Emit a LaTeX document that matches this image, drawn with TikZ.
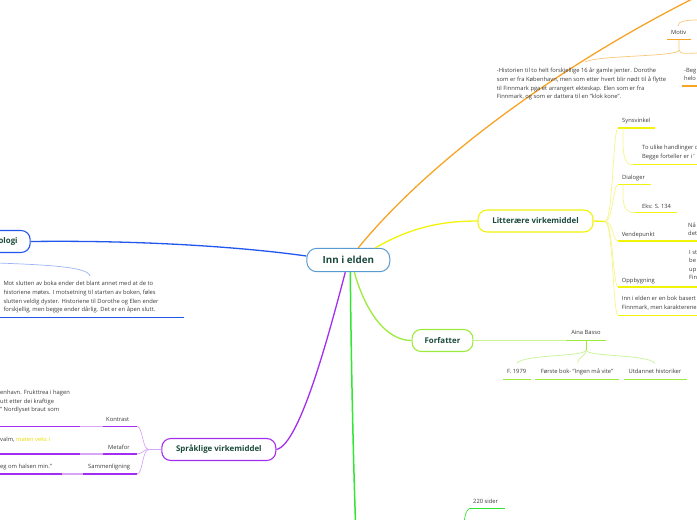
\documentclass[tikz,border=0pt]{standalone}
\usepackage{fontspec}
\setmainfont{Open Sans}
\definecolor{org}{HTML}{F7A325}
\definecolor{orgl}{HTML}{FAC77A}
\definecolor{ylw}{HTML}{F2F20A}
\definecolor{ylwl}{HTML}{F5F58A}
\definecolor{ylwt}{HTML}{E6DC00}
\definecolor{lgr}{HTML}{9BEB3C}
\definecolor{lgrl}{HTML}{C8F294}
\definecolor{grn}{HTML}{33E633}
\definecolor{blu}{HTML}{2257EE}
\definecolor{blul}{HTML}{9DB4F6}
\definecolor{pur}{HTML}{A32EF2}
\definecolor{purl}{HTML}{D8A6F8}
\definecolor{ctr}{HTML}{5A9BD0}
\definecolor{ttl}{HTML}{1B4A3C}
\definecolor{txt}{HTML}{3A3A3A}
\tikzset{
  root/.style={draw=ctr, line width=1pt, rounded corners=10pt, fill=white, text=ttl,
    font=\bfseries\fontsize{9.8}{11}\selectfont, minimum width=83pt, minimum height=23.4pt, inner sep=0pt},
  branch/.style={line width=1.1pt, rounded corners=9pt, fill=white, text=ttl,
    font=\bfseries\fontsize{7.9}{9}\selectfont, minimum height=22pt, inner xsep=12.5pt, inner ysep=0pt},
  lbl/.style={text=txt, font=\fontsize{5.8}{8.6}\selectfont, inner sep=0pt, anchor=base west},
  clbl/.style={text=txt, font=\fontsize{5.8}{8.6}\selectfont, inner sep=0pt, anchor=base},
  para/.style={text=txt, font=\fontsize{5.8}{8.6}\selectfont, inner sep=0pt, anchor=north west, align=left},
  uline/.style={line width=1.4pt},
  conn/.style={line width=0.7pt},
  mainline/.style={line width=1.3pt}
}
\begin{document}
\begin{tikzpicture}[x=1pt,y=-1pt]
\useasboundingbox (0,0) rectangle (697,520);

% ---------- nodes ----------
\node[root] (root) at (348.3,260) {Inn i elden};
\node[branch, draw=ylw, minimum width=115pt] (lit) at (535.5,221) {Litterære virkemiddel};
\node[branch, draw=lgr, minimum width=59pt] (forf) at (442.5,340.5) {Forfatter};
\node[branch, draw=pur, minimum width=114pt] (spr) at (218.8,449.5) {Språklige virkemiddel};
\node[branch, draw=blu, anchor=east] (krono) at (30.7,241.5) {Kronologi};

% ---------- orange ----------
\coordinate (oE) at (700,-5);
\draw[org, mainline] ([xshift=10pt]root.north) .. controls (430,160) and (560,65) .. (oE);
\node[lbl] (motiv) at (671,34.3) {Motiv};
\coordinate (motL) at (667,39.5); \coordinate (motR) at (691,39.5);
\coordinate (motF) at (679,50);
\coordinate (histT) at (585,62); \coordinate (begT) at (699,53);
\coordinate (motUp) at (699,20);
\draw[org, uline] (motL) -- (motR);
\draw[orgl, conn] (679,39.5) -- (motF) .. controls (679,57) and (598,55) .. (histT);
\draw[orgl, conn] (motF) .. controls (679,55) and (690,53) .. (begT);
\draw[orgl, conn] (678,26) .. controls (678,21) and (686,20) .. (motUp);
\node[para] (hist) at (496.7,68) {-Historien til to helt forskjellige 16 år gamle jenter. Dorothe\\som er fra København, men som etter hvert blir nødt til å flytte\\til Finnmark pga et arrangert ekteskap. Elen som er fra\\Finnmark, og som er dattera til en "klok kone".};
\node[para] (beg) at (684,68) {-Beg\\helo};
\coordinate (begL) at (682,86); \coordinate (begR) at (699,86);
\draw[org, uline] (begL) -- (begR);

% ---------- yellow ----------
\draw[ylw, mainline] ([xshift=27pt]root.north) .. controls (410,228) and (440,221) .. (lit.west);
\coordinate (lf) at (605,221.5);
\draw[ylw, mainline] (lit.east) -- (lf);
\coordinate (syn) at (618,128);
\coordinate (dia) at (618,184.7);
\coordinate (ven) at (618,241);
\coordinate (opp) at (618,287);
\coordinate (inn) at (618,315.5);
\foreach \c in {syn,dia,ven,opp,inn}{
  \draw[ylwl, conn] (lf) .. controls (613,221.5) and (613,0|-\c) .. (\c);
}
\draw[ylw, uline] (syn) -- (655,128);
\draw[ylw, uline] (dia) -- (651,184.7);
\draw[ylw, uline] (ven) -- (699,241);
\draw[ylw, uline] (opp) -- (699,287);
\draw[ylw, uline] (inn) -- (699,315.5);
\node[lbl] (synT) at (622,122.6) {Synsvinkel};
\node[lbl] (diaT) at (622,179.6) {Dialoger};
\node[lbl] (venT) at (621.7,236) {Vendepunkt};
\node[lbl] (oppT) at (621.7,282) {Oppbygning};
\node[para] (innT) at (621.7,296.2) {Inn i elden er en bok basert\\Finnmark, men karakterene};
% sub items
\coordinate (synS) at (633,164.7);
\draw[ylwl, conn] (623,128) -- (623,140) .. controls (623,160) and (626,164.7) .. (synS);
\draw[ylw, uline] (synS) -- (699,164.7);
\node[para] (synP) at (642,145.2) {To ulike handlinger o\\Begge forteller er i '};
\coordinate (diaS) at (635,212.7);
\draw[ylwl, conn] (623,184.7) -- (623,195) .. controls (623,209) and (627,212.7) .. (diaS);
\draw[ylw, uline] (diaS) -- (677,212.7);
\node[lbl] (eks) at (642,208) {Eks: S. 134};
\node[para] (venP) at (688,222.2) {Nå\\det};
\node[para] (oppP) at (689,249.7) {I st\\be\\up\\Fin};

% ---------- light green (Forfatter) ----------
\draw[lgr, mainline] ([xshift=6pt]root.south) .. controls (365,310) and (385,340.5) .. (forf.west);
\coordinate (ainaL) at (566,340.5); \coordinate (ainaR) at (606,340.5);
\draw[lgrl, conn] (forf.east) -- (ainaL);
\draw[lgr, uline] (ainaL) -- (ainaR);
\node[clbl] (aina) at (586,334.6) {Aina Basso};
\coordinate (af) at (586,350);
\coordinate (c1) at (516.7,363.3);
\coordinate (c2) at (577.7,363.3);
\coordinate (c3) at (655,363.3);
\draw[lgr, conn] (586,340.5) -- (af);
\draw[lgrl, conn] (af) .. controls (586,357) and (524,354) .. (c1);
\draw[lgrl, conn] (af) .. controls (586,357) and (578,356) .. (c2);
\draw[lgrl, conn] (af) .. controls (586,357) and (648,354) .. (c3);
\node[clbl] (f1979) at (516.7,373.6) {F. 1979};
\node[clbl] (forste) at (577,373.6) {Første bok- "Ingen må vite"};
\node[clbl] (utd) at (655,373.6) {Utdannet historiker};
\draw[lgr, uline] (502.7,379.3) -- (530.7,379.3);
\draw[lgr, uline] (535,379.3) -- (619,379.3);
\draw[lgr, uline] (624,379.3) -- (686.7,379.3);

% ---------- bright green ----------
\coordinate (gE) at (355.5,522);
\draw[grn, line width=1.5pt] ([xshift=2pt]root.south) .. controls (351,350) and (353,450) .. (gE);
\node[lbl] (sider) at (473,503) {220 sider};
\coordinate (sidL) at (470,508.3); \coordinate (sidR) at (505,508.3);
\coordinate (sidD) at (464,523);
\draw[grn, uline] (sidL) -- (sidR);
\draw[grn, conn] (sidL) .. controls (466,510) and (465,515) .. (sidD);

% ---------- blue ----------
\draw[blu, mainline] (krono.east) .. controls (150,240) and (250,248) .. ([yshift=4pt]root.west);
\coordinate (bS) at (-2,263); \coordinate (bE) at (90,276);
\draw[blul, conn] (bS) .. controls (50,265) and (88,267) .. (bE);
\node[para] (slutt) at (3.3,281.3) {Mot slutten av boka ender det blant annet med at de to\\historiene møtes. I motsetning til starten av boken, føles\\slutten veldig dyster. Historiene til Dorothe og Elen ender\\forskjellig, men begge ender dårlig. Det er en åpen slutt.};
\draw[blu, uline] (0,317.7) -- (184,317.7);

% ---------- purple ----------
\draw[pur, mainline] ([xshift=-3pt]root.south) .. controls (330,330) and (300,445) .. (spr.east);
\coordinate (pf) at (149,449.5);
\draw[purl, conn] (spr.west) -- (pf);
\coordinate (kon) at (137,426.5);
\coordinate (met) at (137,454);
\coordinate (sam) at (137,474);
\foreach \c in {kon,met,sam}{
  \draw[purl, conn] (pf) .. controls (142,449.5) and (143,0|-\c) .. (\c);
}
\draw[pur, uline] (103,426.5) -- (kon);
\draw[purl, uline] (80,426.5) -- (103,426.5);
\draw[pur, uline] (0,426.5) -- (80,426.5);
\draw[pur, uline] (103,454) -- (met);
\draw[purl, uline] (80,454) -- (103,454);
\draw[pur, uline] (0,454) -- (80,454);
\draw[pur, uline] (83,474) -- (sam);
\draw[purl, uline] (62,474) -- (83,474);
\draw[pur, uline] (0,474) -- (62,474);
\node[lbl] (konT) at (106,421) {Kontrast};
\node[lbl] (metT) at (108,449.2) {Metafor};
\node[lbl] (samT) at (88,468.5) {Sammenligning};
\node[para] (konP) at (0,390) {enhavn. Frukttrea i hagen\\utt etter dei kraftige\\" Nordlyset braut som};
\node[lbl] (metP) at (0,441) {valm, \textcolor{ylwt}{maten veks i}};
\node[lbl] (samP) at (0,468.5) {eg om halsen min."};
\end{tikzpicture}
\end{document}
